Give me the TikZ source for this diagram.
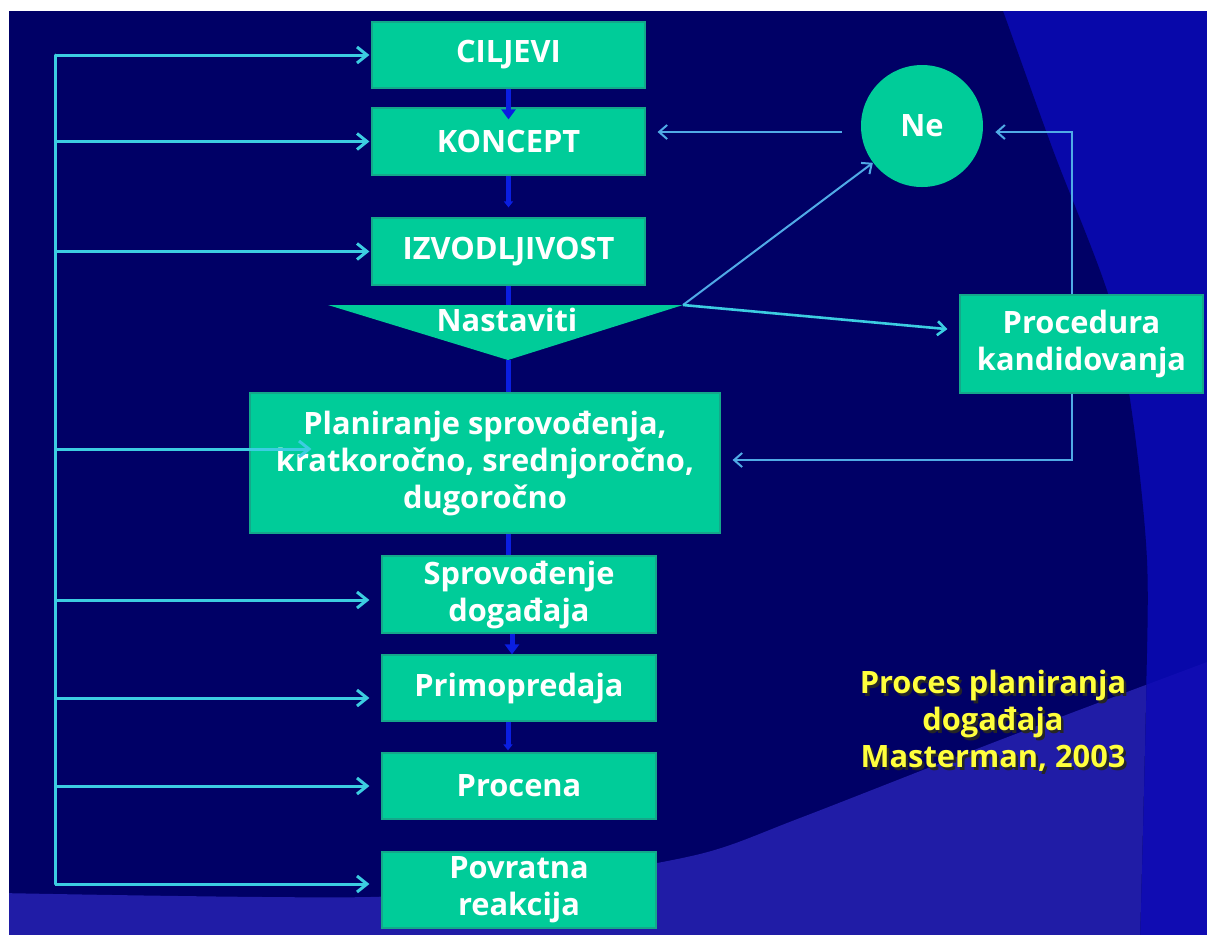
\documentclass[tikz,border=0pt]{standalone}
\usepackage{fontspec}
\setmainfont{Open Sans}
\usetikzlibrary{arrows.meta,calc}

\definecolor{navy}{RGB}{0,0,102}
\definecolor{slideblue}{RGB}{8,8,170}
\definecolor{bandin}{RGB}{32,28,166}
\definecolor{bandout}{RGB}{16,12,178}
\definecolor{boxgreen}{RGB}{0,204,153}
\definecolor{boxedge}{RGB}{20,168,138}
\definecolor{flowblue}{RGB}{10,30,225}
\definecolor{buscyan}{RGB}{60,205,225}
\definecolor{loopblue}{RGB}{80,170,230}
\definecolor{noteyellow}{RGB}{255,255,60}

\tikzset{
  boxfont/.style={font=\fontsize{15.4}{18.5}\selectfont\bfseries},
  stepbox/.style={boxfont, fill=boxgreen, draw=boxedge, line width=0.6pt,
    text=white, align=center, inner sep=0pt},
  steptext/.style={boxfont, text=white, inner sep=0pt},
  flow/.style={draw=flowblue, line width=2.5pt},
  bigtip/.style={-{Triangle[width=7pt,length=5pt]}},
  smalltip/.style={-{Triangle[width=4.5pt,length=3pt]}},
  bus/.style={draw=buscyan, line width=1.5pt},
  busarrow/.style={bus, -{Straight Barb[length=5pt,width=8pt]}},
  looparrow/.style={draw=loopblue, line width=1pt, -{Straight Barb[length=4pt,width=7pt]}},
  notetext/.style={boxfont, align=center, inner sep=0pt}
}

\begin{document}
\begin{tikzpicture}[x=0.5pt,y=-0.5pt]
\useasboundingbox (0,0) rectangle (1207,934);
\fill[white] (0,0) rectangle (1207,934);

% slide background: blue field, lower band and the large navy oval
\begin{scope}
  \clip (9,11) rectangle (1207,934);
  \fill[slideblue] (9,11) rectangle (1207,934);
  \fill[bandout] (0,893) -- plot[smooth] coordinates
    {(0,893) (370,897) (550,880) (700,854) (800,818) (1000,740) (1207,662)}
    -- (1207,940) -- (0,940) -- cycle;
  \fill[navy] (0,0) -- plot[smooth] coordinates
    {(998,0) (1003,11) (1053,150) (1110,300) (1133,420) (1147,560) (1146,700) (1140,940)}
    -- (0,940) -- cycle;
  \begin{scope}
    \clip (0,0) -- plot[smooth] coordinates
      {(998,0) (1003,11) (1053,150) (1110,300) (1133,420) (1147,560) (1146,700) (1140,940)}
      -- (0,940) -- cycle;
    \fill[bandin] (0,893) -- plot[smooth] coordinates
      {(0,893) (370,897) (550,880) (700,854) (800,818) (1000,740) (1207,662)}
      -- (1207,940) -- (0,940) -- cycle;
  \end{scope}
\end{scope}

% main column
\node[stepbox, minimum width=136.5pt, minimum height=33pt] (cil) at (508.5,55) {CILJEVI};
\node[stepbox, minimum width=136.5pt, minimum height=33.5pt] (kon) at (508.5,141.5) {KONCEPT};
\node[stepbox, minimum width=136.5pt, minimum height=33.5pt] (izv) at (508.5,251.5) {IZVODLJIVOST};

\coordinate (triL) at (328,305);
\coordinate (triR) at (683,305);
\coordinate (triB) at (508,360);
\fill[boxgreen] (triL) -- (triR) -- (triB) -- cycle;
\node[steptext] (nast) at (507,320) {Nastaviti};

\node[stepbox, minimum width=235pt, minimum height=70pt] (plan) at (485,463)
  {Planiranje sprovođenja,\\kratkoročno, srednjoročno,\\dugoročno};
\node[stepbox, minimum width=137pt, minimum height=38.5pt] (spr) at (519,594.5) {Sprovođenje\\događaja};
\node[stepbox, minimum width=137pt, minimum height=33pt] (pri) at (519,688) {Primopredaja};
\node[stepbox, minimum width=137pt, minimum height=33pt] (proc) at (519,786) {Procena};
\node[stepbox, minimum width=137pt, minimum height=38pt] (pov) at (519,890) {Povratna\\reakcija};

% right branch
\node[circle, fill=boxgreen, minimum size=61pt, inner sep=0pt, steptext] (ne) at (922,126) {Ne};
\node[stepbox, minimum width=121.5pt, minimum height=49pt] (kand) at (1081.5,344) {Procedura\\kandidovanja};

% blue flow between the steps
\draw[flow, bigtip] (cil.south) -- ($(kon.north)+(0,12)$);
\draw[flow, smalltip] (kon.south) -- ($(izv.north)+(0,-10)$);
\draw[flow] (izv.south) -- (izv.south |- triL);
\draw[flow] (triB) -- (triB |- plan.north);
\draw[flow] (triB |- plan.south) -- (triB |- spr.north);
\draw[flow, bigtip] ($(triB |- spr.south)+(4,0)$) -- ($(triB |- pri.north)+(4,0)$);
\draw[flow, smalltip] (triB |- pri.south) -- ($(triB |- proc.north)+(0,-2)$);

% feedback bus on the left
\coordinate (planIn) at ($(plan.west)+(62,-14)$);
\coordinate (sprIn) at ($(spr.west)+(-12,5.5)$);
\coordinate (priIn) at ($(pri.west)+(-12,10)$);
\coordinate (procIn) at ($(proc.west)+(-12,0)$);
\coordinate (povIn) at ($(pov.west)+(-12,-6)$);
\coordinate (busT) at (55,55);
\draw[bus, line cap=round] (busT) -- (busT |- povIn);
\draw[busarrow] (busT |- cil.west) -- ($(cil.west)+(-2,0)$);
\draw[busarrow] (busT |- kon.west) -- ($(kon.west)+(-2,0)$);
\draw[busarrow] (busT |- izv.west) -- ($(izv.west)+(-2,0)$);
\draw[busarrow] (busT |- planIn) -- (planIn);
\draw[busarrow] (busT |- sprIn) -- (sprIn);
\draw[busarrow] (busT |- priIn) -- (priIn);
\draw[busarrow] (busT |- procIn) -- (procIn);
\draw[busarrow] (busT |- povIn) -- (povIn);

% decision branches
\coordinate (neL) at ($(ne.west)+(-19,6)$);
\draw[looparrow] (neL) -- ($(kon.east |- neL)+(12,0)$);
\draw[looparrow] (triR) -- (ne);
\draw[looparrow, draw=buscyan, line width=1.3pt]
  (triR) -- ($(kand.north west)!0.35!(kand.south west)+(-12,0)$);
\draw[looparrow] ($(kand.north)+(-10,0)$) |- ($(ne.east)+(12,6)$);
\draw[looparrow] ($(kand.south)+(-10,0)$) |- ($(plan.east)+(12,-3)$);

% caption
\node[notetext, text=black!85] at (995.5,723.5)
  {Proces planiranja\\događaja\\Masterman, 2003};
\node[notetext, text=noteyellow] (note) at (993,721)
  {Proces planiranja\\događaja\\Masterman, 2003};
\end{tikzpicture}
\end{document}
